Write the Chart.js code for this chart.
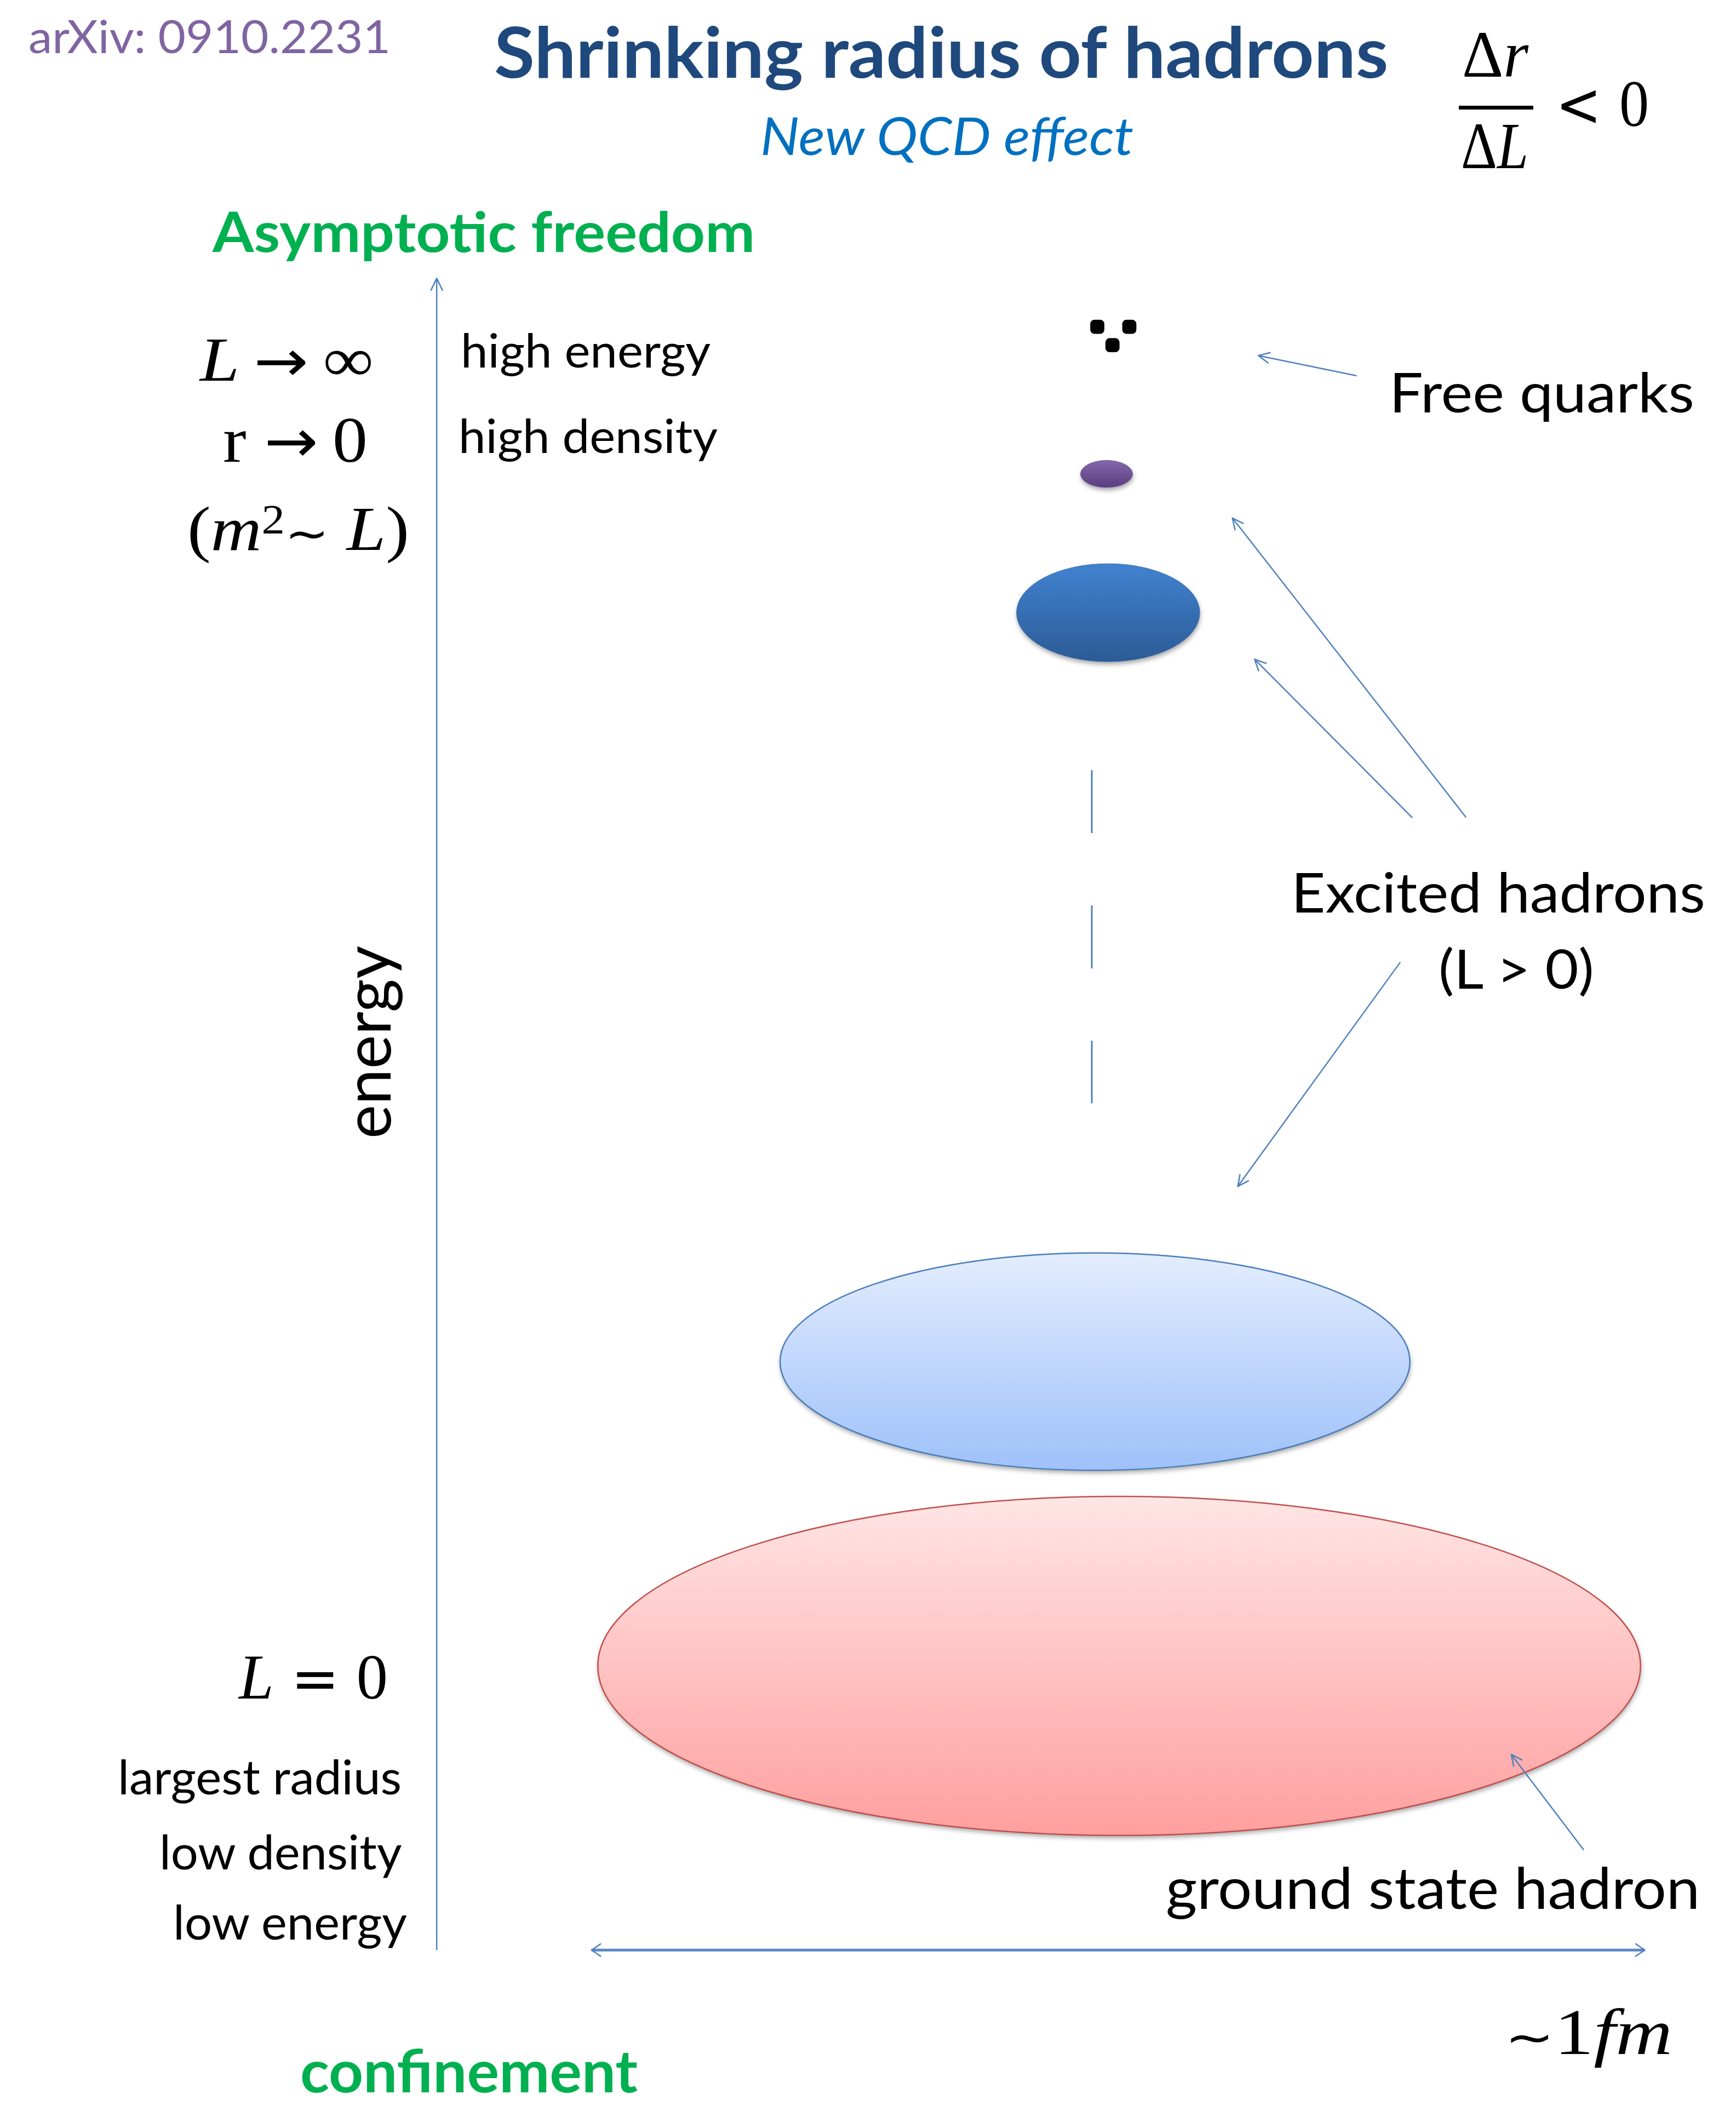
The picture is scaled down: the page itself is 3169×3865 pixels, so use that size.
<!DOCTYPE html>
<html><head><meta charset="utf-8">
<script src="https://cdn.jsdelivr.net/npm/chart.js@4"></script>
<style>
html,body{margin:0;padding:0;background:#fff;}
#wrap{position:relative;width:3169px;height:3865px;overflow:hidden;background:#fff;}
#chart{position:absolute;left:0;top:0;}
#labels{position:absolute;left:0;top:0;width:3169px;height:3865px;pointer-events:none;}
.t{position:absolute;white-space:nowrap;margin:0;padding:0;}
.t i{font-style:italic;}
.t sup{font-size:0.66em;line-height:0;vertical-align:0.40em;}
.op{font-family:'DejaVu Sans';font-size:0.92em;}
.bar{position:absolute;background:#000;}
</style></head><body>
<div id="wrap"><canvas id="chart" width="3169" height="3865"></canvas><div id="labels"></div></div>
<script>
// ---------------- DATA ----------------
// hadron states: energy (arbitrary units, 0 = bottom of energy axis, 10 = top)
const states        = ['ground state hadron (L = 0)', 'excited hadron (L > 0)', 'excited hadron (higher L)', 'excited hadron (highest L)'];
const energyLevel   = [1.70, 3.52, 8.00, 8.83];
const radiusFm      = [0.495, 0.299, 0.087, 0.0247];   // horizontal half-size, fm
const energySpread  = [1.014, 0.650, 0.293, 0.081];    // vertical half-size, energy units
const centerFm      = [0.001, -0.022, -0.0095, -0.011];
// free quarks
const quarkX = [-0.0198, 0.0106, -0.0054];
const quarkY = [9.710, 9.710, 9.600];
// dashed continuation between states
const contX = [-0.025, -0.025];
const contY = [7.058, 5.065];
// axes
const energyAxisX = -0.647;
const energyAxisRange = [0, 10];
const sizeSpanFm = [-0.5, 0.5];
const sizeAxisY = 0;
// pointer arrows (data units): [fromX, fromY, toX, toY]
const pointers = [
  [0.2259, 9.418, 0.1332, 9.538],   // Free quarks
  [0.3300, 6.778, 0.1085, 8.566],   // Excited hadrons -> small
  [0.2790, 6.775, 0.1296, 7.721],   // Excited hadrons -> medium
  [0.2676, 5.907, 0.1136, 4.568],   // Excited hadrons -> large
  [0.4418, 0.601, 0.3733, 1.170]    // ground state hadron
];
const X_MIN = -1.05384, X_MAX = 0.57883;
const Y_MIN = -0.9493, Y_MAX = 11.6158;

// ---------------- STYLES ----------------
const fillTop    = ['#FFE5E5', '#E3EDFD', '#4182D0', '#8466AB'];
const fillBottom = ['#FF9F9F', '#9FC1FA', '#2C5B96', '#5B3E7F'];
const strokeCol  = ['#C0504D', '#4A7EBB', '#3A70B2', '#7559A0'];
const strokeW    = [2.5, 2.5, 1, 1];
const LINE = '#4F81BD';

const hadronPlugin = {
  id: 'hadrons',
  beforeDatasetsDraw(chart) {
    const ctx = chart.ctx, xs = chart.scales.x, ys = chart.scales.y;
    const meta = chart.getDatasetMeta(0);
    meta.data.forEach((pt, i) => {
      const cx = pt.x, cy = pt.y;
      const rx = Math.abs(xs.getPixelForValue(centerFm[i] + radiusFm[i]) - cx);
      const ry = Math.abs(ys.getPixelForValue(energyLevel[i] + energySpread[i]) - cy);
      ctx.save();
      const g = ctx.createLinearGradient(0, cy - ry, 0, cy + ry);
      g.addColorStop(0, fillTop[i]); g.addColorStop(1, fillBottom[i]);
      ctx.beginPath(); ctx.ellipse(cx, cy, rx, ry, 0, 0, Math.PI * 2);
      ctx.shadowColor = 'rgba(0,0,0,0.35)'; ctx.shadowBlur = 8; ctx.shadowOffsetY = 5; ctx.shadowOffsetX = 1;
      ctx.fillStyle = g; ctx.fill();
      ctx.shadowColor = 'rgba(0,0,0,0)';
      ctx.lineWidth = strokeW[i]; ctx.strokeStyle = strokeCol[i]; ctx.stroke();
      ctx.restore();
    });
  }
};

function head(ctx, fx, fy, tx, ty, len, ang) {
  const a = Math.atan2(ty - fy, tx - fx);
  ctx.beginPath();
  ctx.moveTo(tx - len * Math.cos(a - ang), ty - len * Math.sin(a - ang));
  ctx.lineTo(tx, ty);
  ctx.lineTo(tx - len * Math.cos(a + ang), ty - len * Math.sin(a + ang));
  ctx.stroke();
}

const arrowPlugin = {
  id: 'arrows',
  afterDatasetsDraw(chart) {
    const ctx = chart.ctx, xs = chart.scales.x, ys = chart.scales.y;
    ctx.save();
    ctx.strokeStyle = LINE; ctx.lineCap = 'round'; ctx.lineJoin = 'round';
    const ex = xs.getPixelForValue(energyAxisX);
    ctx.lineWidth = 2.5;
    head(ctx, ex, ys.getPixelForValue(energyAxisRange[0]), ex, ys.getPixelForValue(energyAxisRange[1]), 24, 0.45);
    const sy = ys.getPixelForValue(sizeAxisY);
    const sx0 = xs.getPixelForValue(sizeSpanFm[0]), sx1 = xs.getPixelForValue(sizeSpanFm[1]);
    head(ctx, sx0, sy, sx1, sy, 20, 0.6);
    head(ctx, sx1, sy, sx0, sy, 20, 0.6);
    pointers.forEach(p => {
      const fx = xs.getPixelForValue(p[0]), fy = ys.getPixelForValue(p[1]);
      const tx = xs.getPixelForValue(p[2]), ty = ys.getPixelForValue(p[3]);
      ctx.beginPath(); ctx.moveTo(fx, fy); ctx.lineTo(tx, ty); ctx.stroke();
      head(ctx, fx, fy, tx, ty, 22, 0.45);
    });
    ctx.restore();
  }
};

new Chart(document.getElementById('chart'), {
  type: 'scatter',
  data: {
    datasets: [
      { label: 'hadron states', data: states.map((s, i) => ({ x: centerFm[i], y: energyLevel[i] })), pointRadius: 0, pointHoverRadius: 0 },
      { label: 'free quarks', data: quarkX.map((v, i) => ({ x: v, y: quarkY[i] })), pointStyle: 'rectRounded', pointRadius: 15, backgroundColor: '#000', borderColor: '#000', borderWidth: 0 },
      { label: 'higher L', data: contX.map((v, i) => ({ x: v, y: contY[i] })), showLine: true, borderDash: [115, 132], borderColor: LINE, borderWidth: 3, pointRadius: 0 },
      { label: 'energy', data: energyAxisRange.map(v => ({ x: energyAxisX, y: v })), showLine: true, borderColor: LINE, borderWidth: 2.5, pointRadius: 0 },
      { label: 'size ~1 fm', data: sizeSpanFm.map(v => ({ x: v, y: sizeAxisY })), showLine: true, borderColor: '#5A87C5', borderWidth: 5, pointRadius: 0 }
    ]
  },
  options: {
    responsive: false, animation: false, devicePixelRatio: 1,
    layout: { padding: 0 },
    events: [],
    plugins: { legend: { display: false }, tooltip: { enabled: false }, title: { display: false } },
    scales: {
      x: { type: 'linear', display: false, min: X_MIN, max: X_MAX },
      y: { type: 'linear', display: false, min: Y_MIN, max: Y_MAX }
    }
  },
  plugins: [hadronPlugin, arrowPlugin]
});

// ---------------- TEXT ----------------
const mctx = document.createElement('canvas').getContext('2d');
const layer = document.getElementById('labels');
function fontStr(o, size) { return `${o.style || 'normal'} ${o.weight || 400} ${size}px ${o.fam}`; }
function addLabel(o) {
  mctx.font = fontStr(o, 100);
  const capR = mctx.measureText(o.ref).actualBoundingBoxAscent / 100;
  const fs = o.cap / capR;
  const font = fontStr(o, fs);
  mctx.font = font;
  const fm = mctx.measureText('Hg');
  const asc = fm.fontBoundingBoxAscent, desc = fm.fontBoundingBoxDescent;
  const el = document.createElement('div');
  el.className = 't';
  el.style.font = font;
  el.style.lineHeight = (asc + desc) + 'px';
  el.style.color = o.color || '#000';
  if (o.html) el.innerHTML = o.html; else el.textContent = o.text;
  layer.appendChild(el);
  let inkL, inkW;
  if (o.html) { inkL = 0; inkW = el.getBoundingClientRect().width; }
  else { const m = mctx.measureText(o.text); inkL = -m.actualBoundingBoxLeft; inkW = m.actualBoundingBoxRight + m.actualBoundingBoxLeft; }
  el.style.transformOrigin = `0px ${asc}px`;
  if (o.rotate) {
    const sx = (o.bottom - o.top) / inkW;
    const Y = o.bottom + inkL * sx;
    el.style.left = o.x + 'px';
    el.style.top = (Y - asc) + 'px';
    el.style.transform = `rotate(-90deg) scaleX(${sx})`;
  } else {
    const sx = (o.right - o.left) / inkW;
    el.style.left = (o.left - inkL * sx) + 'px';
    el.style.top = (o.base - asc) + 'px';
    el.style.transform = `scaleX(${sx})`;
  }
}
const SANS = 'Lato', SERIF = "'Liberation Serif'";
const labels = [
  { text: 'arXiv: 0910.2231', fam: SANS, color: '#8064A2', cap: 62, ref: '0', left: 54, right: 707, base: 97 },
  { text: 'Shrinking radius of hadrons', fam: SANS, weight: 700, color: '#1F497D', cap: 94, ref: 'S', left: 904, right: 2533, base: 142 },
  { text: 'New QCD effect', fam: SANS, style: 'italic', color: '#0070C0', cap: 68, ref: 'N', left: 1392, right: 2070, base: 283 },
  { text: 'Asymptotic freedom', fam: SANS, weight: 700, color: '#00B050', cap: 73, ref: 'A', left: 387, right: 1373, base: 460 },
  { text: 'high energy', fam: SANS, cap: 63, ref: 'h', left: 847, right: 1297, base: 671 },
  { text: 'high density', fam: SANS, cap: 63, ref: 'h', left: 843, right: 1310, base: 827 },
  { text: 'Free quarks', fam: SANS, cap: 73, ref: 'F', left: 2546, right: 3089, base: 753 },
  { text: 'Excited hadrons', fam: SANS, cap: 73, ref: 'E', left: 2367, right: 3109, base: 1666 },
  { text: '(L > 0)', fam: SANS, cap: 72, ref: 'L', left: 2630, right: 2908, base: 1805 },
  { text: 'energy', fam: SANS, cap: 62, ref: 'e', rotate: true, x: 713, bottom: 2075, top: 1727 },
  { text: 'largest radius', fam: SANS, cap: 65, ref: 'l', left: 221, right: 730, base: 3276 },
  { text: 'low density', fam: SANS, cap: 65, ref: 'l', left: 297, right: 735, base: 3413 },
  { text: 'low energy', fam: SANS, cap: 64, ref: 'l', left: 322, right: 744, base: 3541 },
  { text: 'ground state hadron', fam: SANS, cap: 78, ref: 'h', left: 2131, right: 3096, base: 3485 },
  { text: 'confinement', fam: SANS, weight: 700, color: '#00B050', cap: 80, ref: 'f', left: 551, right: 1164, base: 3820 },
  // math
  { html: '<i>L</i><span class="op" style="margin:0 0.22em">→</span>∞', fam: SERIF, cap: 74, ref: 'L', left: 365, right: 682, base: 695 },
  { html: 'r<span class="op" style="margin:0 0.22em 0 0.28em">→</span>0', fam: SERIF, cap: 78, ref: '0', left: 407, right: 671, base: 843 },
  { html: '(<i>m</i><sup>2</sup><span class="op" style="font-size:0.75em">∼</span> <i>L</i>)', fam: SERIF, cap: 75, ref: 'L', left: 342, right: 747, base: 1004 },
  { html: '<i>L</i><span class="op" style="margin:0 0.3em">=</span>0', fam: SERIF, cap: 76, ref: 'L', left: 436, right: 708, base: 3101 },
  { html: '<span class="op" style="font-size:0.75em">∼</span>1<i>fm</i>', fam: SERIF, cap: 78, ref: '1', left: 2747, right: 3053, base: 3750 },
  { html: 'Δ<i>r</i>', fam: SERIF, cap: 79, ref: 'Δ', left: 2669, right: 2790, base: 140 },
  { html: 'Δ<i>L</i>', fam: SERIF, cap: 79, ref: 'Δ', left: 2667, right: 2790, base: 307 },
  { html: '<span class="op">&lt;</span><span style="margin-left:0.3em">0</span>', fam: SERIF, cap: 80, ref: '0', left: 2840, right: 3010, base: 230 }
];
labels.forEach(addLabel);
const bar = document.createElement('div');
bar.className = 'bar';
bar.style.cssText += 'left:2663px;top:193px;width:136px;height:7px;';
layer.appendChild(bar);
</script>
</body></html>
